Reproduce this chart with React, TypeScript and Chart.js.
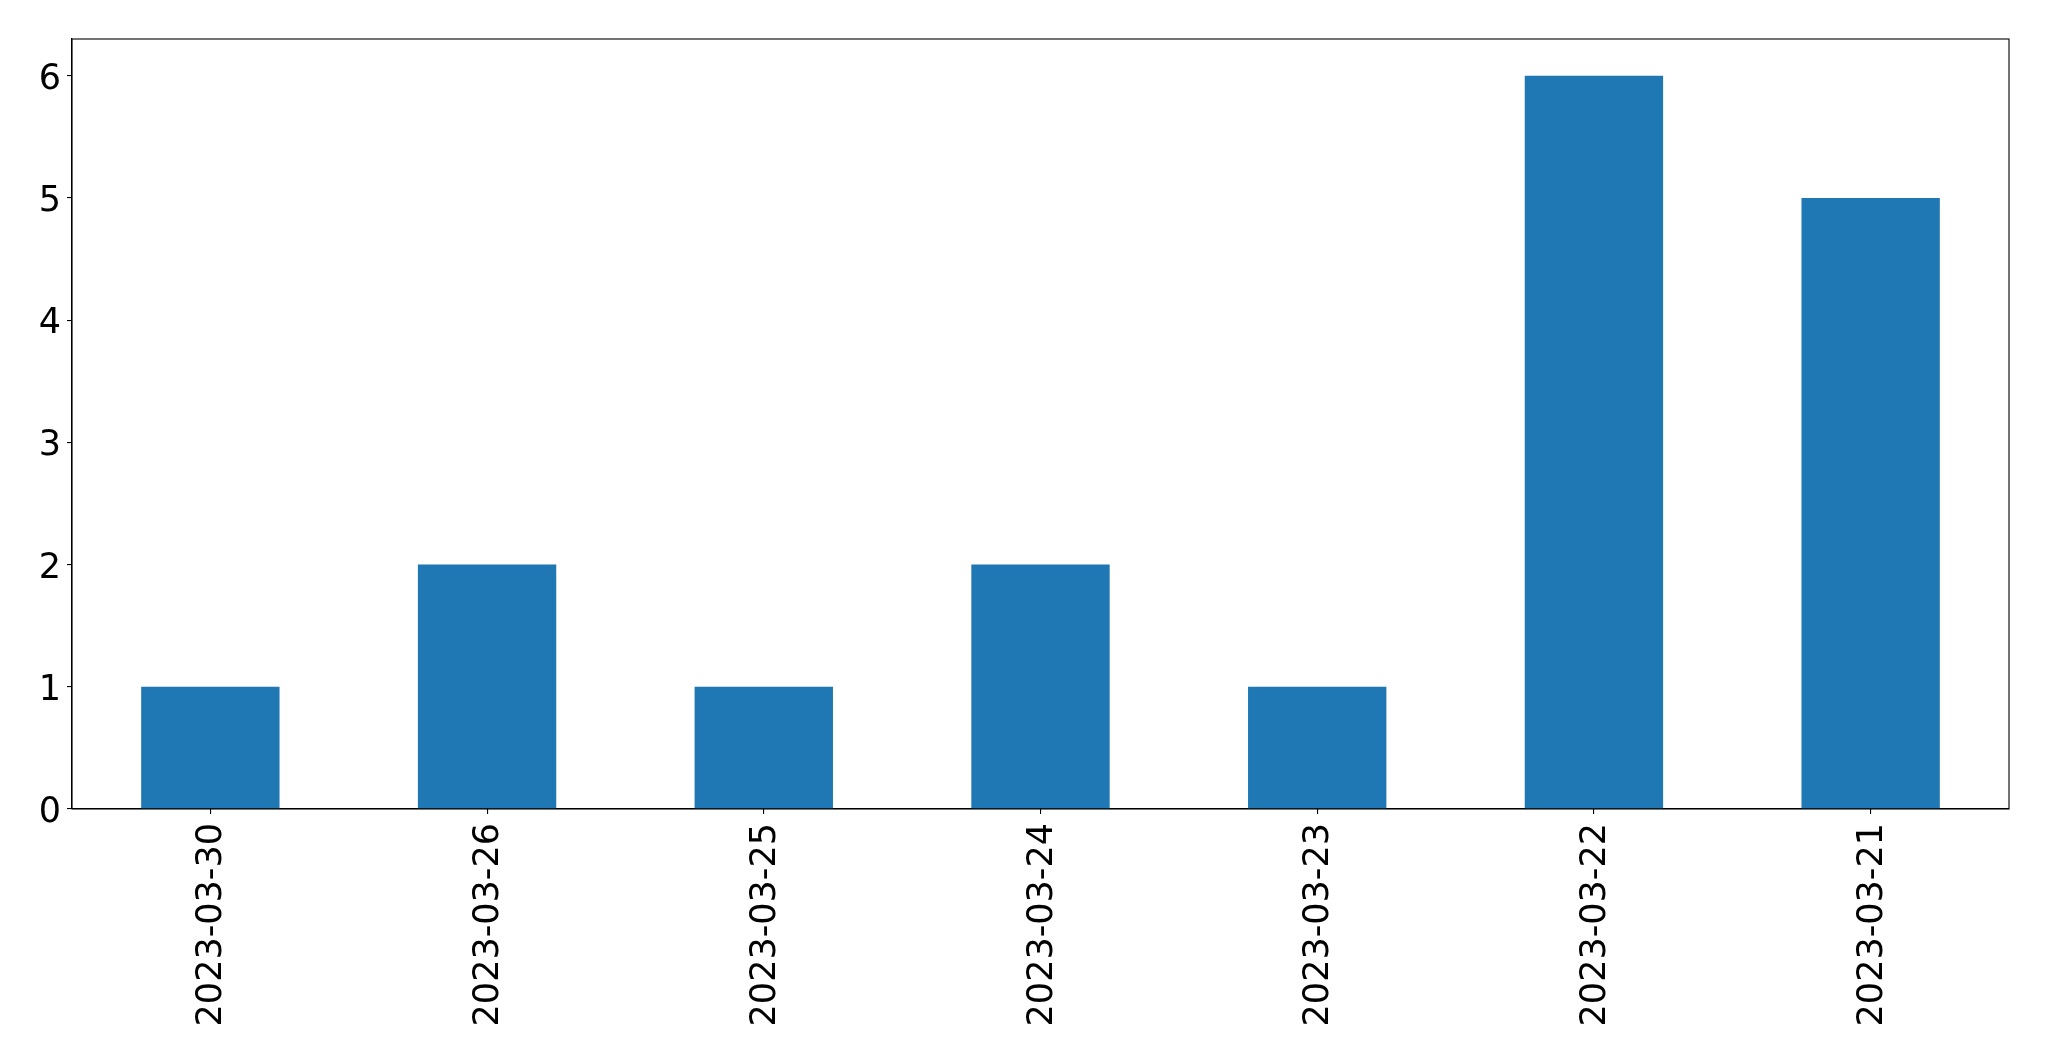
import React, { useEffect, useRef } from "react";
import { Chart, registerables } from "chart.js";

Chart.register(...registerables);

const CATEGORIES = [
  "2023-03-30",
  "2023-03-26",
  "2023-03-25",
  "2023-03-24",
  "2023-03-23",
  "2023-03-22",
  "2023-03-21",
];
const COUNTS = [1, 2, 1, 2, 1, 6, 5];
const Y_TICKS = [0, 1, 2, 3, 4, 5, 6];
const Y_MAX = 6.3;

const W = 2049;
const H = 1061;

const boxPlugin = {
  id: "boxPlugin",
  afterDraw(chart: any) {
    const { ctx, chartArea } = chart;
    ctx.save();
    ctx.strokeStyle = "#000";
    ctx.lineWidth = 1.1;
    ctx.strokeRect(chartArea.left, chartArea.top, chartArea.right - chartArea.left, chartArea.bottom - chartArea.top);
    ctx.restore();
  },
};

export default function App() {
  const ref = useRef<HTMLCanvasElement | null>(null);
  useEffect(() => {
    if (!ref.current) return;
    const font = { family: "'DejaVu Sans', sans-serif", size: 35 };
    const chart = new Chart(ref.current, {
      type: "bar",
      data: {
        labels: CATEGORIES,
        datasets: [
          {
            data: COUNTS,
            backgroundColor: "#1f77b4",
            borderWidth: 0,
            barPercentage: 0.5,
            categoryPercentage: 1,
          },
        ],
      },
      options: {
        responsive: false,
        animation: false,
        devicePixelRatio: 1,
        layout: { padding: { left: 0, right: 40, top: 39, bottom: 0 } },
        plugins: { legend: { display: false }, tooltip: { enabled: false } },
        scales: {
          x: {
            offset: true,
            grid: { display: true, drawOnChartArea: false, drawTicks: true, tickLength: 5, color: "#000", lineWidth: 1.1, offset: false },
            border: { display: true, color: "#000", width: 1.1 },
            ticks: { font, color: "#000", minRotation: 90, maxRotation: 90, padding: 9, autoSkip: false, labelOffset: 2 },
            afterFit: (scale: any) => {
              scale.height = H - 809;
            },
          },
          y: {
            min: 0,
            max: Y_MAX,
            grid: { display: true, drawOnChartArea: false, drawTicks: true, tickLength: 5, color: "#000", lineWidth: 1.1 },
            border: { display: true, color: "#000", width: 1.1 },
            ticks: { font, color: "#000", stepSize: 1, padding: 6, labelOffset: 4 },
            afterBuildTicks: (scale: any) => {
              scale.ticks = Y_TICKS.map((v) => ({ value: v }));
            },
            afterFit: (scale: any) => {
              scale.width = 72;
            },
          },
        },
      },
      plugins: [boxPlugin],
    });
    return () => chart.destroy();
  }, []);
  return (
    <div style={{ position: "fixed", left: 0, top: 0, width: W, height: H, background: "#fff" }}>
      <canvas ref={ref} width={W} height={H} style={{ width: W, height: H, display: "block" }} />
    </div>
  );
}
